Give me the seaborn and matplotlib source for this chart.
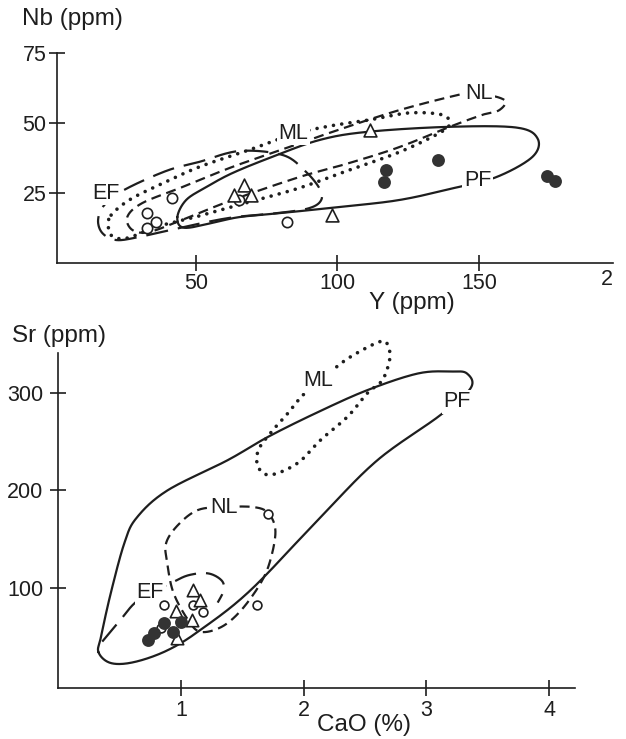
import numpy as np
import pandas as pd
import matplotlib
matplotlib.use("Agg")
import matplotlib.pyplot as plt
import seaborn as sns

# ---------------- data: top panel (Nb vs Y) ----------------
top_open_y = [32.9, 32.9, 36.0, 41.7, 65.4, 82.3]
top_open_nb = [17.9, 12.5, 14.6, 23.2, 22.5, 14.6]
top_tri_y = [67.1, 63.6, 69.6, 111.7, 98.2]
top_tri_nb = [27.9, 24.3, 24.3, 47.5, 17.1]
top_fill_y = [117.3, 116.6, 135.7, 173.9, 177.0]
top_fill_nb = [33.2, 28.9, 36.8, 31.1, 29.3]

# envelopes (Y, Nb) vertices
top_PF = [(43.5, 16.4), (46.6, 22.5), (53.7, 27.1), (62.9, 32.1), (77.0, 37.9), (93.6, 43.9),
          (110.2, 46.8), (138.5, 48.6), (163.0, 48.4), (170.7, 44.5), (168.9, 37.9), (156.2, 30.7),
          (141.3, 26.8), (121.9, 22.5), (100.7, 20.0), (80.6, 17.9), (65.4, 16.4), (55.8, 14.3),
          (45.8, 12.6)]
top_EF = [(24.7, 26.1), (39.6, 32.9), (51.2, 36.1), (65.4, 40.0), (80.6, 38.6), (88.3, 33.2),
          (93.6, 26.8), (94.3, 22.5), (90.1, 19.6), (79.5, 17.9), (61.8, 16.1), (44.2, 12.5),
          (30.0, 9.3), (21.9, 8.2), (17.0, 10.7), (15.5, 15.4), (17.7, 20.7)]
top_ML = [(20.1, 17.1), (26.5, 22.5), (37.1, 27.9), (51.2, 34.3), (68.9, 40.4), (84.5, 46.0),
          (97.2, 48.9), (111.3, 51.1), (125.4, 53.6), (137.1, 52.9), (139.6, 49.6), (136.0, 46.4),
          (121.9, 39.6), (104.2, 33.2), (86.6, 26.8), (68.9, 21.8), (51.2, 16.8), (37.1, 13.2),
          (25.8, 8.9), (20.5, 9.6), (19.1, 13.2)]
top_NL = [(150.2, 60.7), (159.0, 58.2), (157.2, 54.6), (151.2, 52.9), (139.6, 48.6), (121.9, 41.4),
          (104.2, 35.7), (86.6, 30.7), (62.9, 22.5), (45.2, 15.4), (33.6, 11.1), (27.6, 11.8),
          (25.8, 16.4), (31.1, 21.4), (45.2, 27.1), (62.9, 34.3), (83.0, 41.4), (98.2, 46.8),
          (121.9, 54.6), (145.6, 60.7)]
top_labels = {"EF": (18.2, 25.0), "ML": (84.5, 46.4), "NL": (150.2, 60.7), "PF": (149.6, 29.3)}
top_xticks = [50, 100, 150]
top_yticks = [25, 50, 75]

# ---------------- data: bottom panel (Sr vs CaO) ----------------
bot_open_cao = [0.86, 1.10, 1.18, 1.62, 1.71, 0.84]
bot_open_sr = [82.6, 82.6, 75.4, 82.6, 175.9, 59.0]
bot_tri_cao = [1.10, 1.16, 0.96, 1.09, 0.97]
bot_tri_sr = [98.0, 87.7, 76.0, 67.2, 48.7]
bot_fill_cao = [0.73, 0.78, 0.86, 0.94, 1.00]
bot_fill_sr = [46.7, 53.8, 64.1, 54.9, 65.1]

bot_PF = [(0.33, 34), (0.35, 50), (0.43, 95), (0.54, 146), (0.64, 172), (0.89, 200), (1.38, 231),
          (1.71, 255), (2.11, 280), (2.52, 303), (2.93, 320), (3.20, 322), (3.33, 320), (3.36, 305),
          (3.11, 277), (2.60, 231), (2.14, 173), (1.57, 98), (1.16, 57), (0.89, 36), (0.62, 24),
          (0.43, 23)]
bot_ML = [(2.11, 311), (2.20, 320), (2.38, 337), (2.63, 353), (2.69, 347), (2.70, 334), (2.64, 313),
          (2.52, 300), (2.36, 276), (2.14, 252), (1.95, 228), (1.73, 216), (1.63, 224), (1.63, 241),
          (1.73, 259), (1.87, 279), (1.98, 296)]
bot_NL = [(1.35, 183), (1.59, 183), (1.71, 177), (1.77, 159), (1.73, 129), (1.65, 105), (1.49, 77),
          (1.33, 60), (1.16, 55), (1.06, 67), (0.94, 95), (0.89, 125), (0.88, 146), (0.98, 165),
          (1.14, 180)]
bot_EF = [(0.36, 45), (0.50, 66), (0.62, 84), (0.75, 95), (0.92, 105), (1.06, 113), (1.22, 115),
          (1.33, 108), (1.35, 98), (1.30, 85)]
bot_labels = {"EF": (0.75, 95), "ML": (2.12, 312.8), "NL": (1.35, 183), "PF": (3.25, 290.8)}
bot_xticks = [1, 2, 3, 4]
bot_yticks = [100, 200, 300]

INK = "#1e1e1e"
FS = 15.5
FS_TITLE = 17.5

sns.set_theme(style="white")
plt.rcParams["font.family"] = ["Liberation Sans", "DejaVu Sans"]


def smooth(pts, closed=True, n=24):
    P = np.asarray(pts, dtype=float)
    if closed:
        P = np.vstack([P[-1], P, P[0], P[1]])
    else:
        P = np.vstack([P[0], P, P[-1]])
    out = []
    t = np.linspace(0, 1, n, endpoint=False)[:, None]
    for i in range(1, len(P) - 2):
        p0, p1, p2, p3 = P[i - 1], P[i], P[i + 1], P[i + 2]
        seg = 0.5 * (2 * p1 + (-p0 + p2) * t + (2 * p0 - 5 * p1 + 4 * p2 - p3) * t ** 2
                     + (-p0 + 3 * p1 - 3 * p2 + p3) * t ** 3)
        out.append(seg)
    out.append(P[-2][None, :])
    return np.vstack(out)


STYLES = {
    "PF": dict(ls="-", lw=1.6),
    "EF": dict(ls=(0, (10, 4.5)), lw=1.6),
    "NL": dict(ls=(0, (4.5, 2.6)), lw=1.6),
    "ML": dict(ls=(0, (0.01, 2.3)), lw=2.6, dash_capstyle="round", solid_capstyle="round"),
}


def draw_env(ax, pts, kind, closed=True):
    c = smooth(pts, closed=closed)
    ax.plot(c[:, 0], c[:, 1], color=INK, zorder=2, clip_on=False, **STYLES[kind])


def scatter_groups(ax, groups, sizes):
    for (xs, ys, marker, filled), s in zip(groups, sizes):
        df = pd.DataFrame({"x": xs, "y": ys})
        sns.scatterplot(data=df, x="x", y="y", ax=ax, marker=marker, s=s,
                        color=("#333333" if filled else "white"),
                        edgecolor=("#333333" if filled else INK),
                        linewidth=1.2, zorder=6, legend=False, clip_on=False)


def style_axis(ax):
    for side in ["top", "right"]:
        ax.spines[side].set_visible(False)
    for side in ["left", "bottom"]:
        ax.spines[side].set_color(INK)
        ax.spines[side].set_linewidth(1.2)
    ax.tick_params(direction="inout", length=11, width=1.2, colors=INK,
                   labelsize=FS, labelcolor=INK, bottom=True, left=True,
                   top=False, right=False)
    ax.set_xlabel("")
    ax.set_ylabel("")


fig = plt.figure(figsize=(6.26, 7.39), dpi=100)
fig.patch.set_facecolor("white")

# ---------- top panel ----------
ax1 = fig.add_axes([0.0911, 0.6441, 0.8879, 0.2842])
ax1.set_facecolor("white")
draw_env(ax1, top_PF, "PF")
draw_env(ax1, top_EF, "EF")
draw_env(ax1, top_ML, "ML")
draw_env(ax1, top_NL, "NL")
scatter_groups(ax1, [(top_open_y, top_open_nb, "o", False),
                     (top_tri_y, top_tri_nb, "^", False),
                     (top_fill_y, top_fill_nb, "o", True)], [55, 85, 65])
for lab, (x, y) in top_labels.items():
    ax1.text(x, y, lab, fontsize=FS, color=INK, ha="center", va="center", zorder=4,
             bbox=dict(boxstyle="square,pad=0.08", fc="white", ec="none"))
ax1.set_xlim(1, 197.3)
ax1.set_ylim(0, 75)
ax1.set_xticks(top_xticks)
ax1.set_yticks(top_yticks)
style_axis(ax1)
ax1.tick_params(axis="x", pad=2)
ax1.tick_params(axis="y", pad=2)
ax1.text(195.2, -2.2, "2", fontsize=FS, color=INK, ha="center", va="top", clip_on=False)
fig.text(22 / 626, 1 - 19 / 739, "Nb (ppm)", fontsize=FS_TITLE, color=INK, ha="left", va="center")
fig.text(412 / 626, 1 - 303 / 739, "Y (ppm)", fontsize=FS_TITLE, color=INK, ha="center", va="center")

# ---------- bottom panel ----------
ax2 = fig.add_axes([0.0927, 0.0690, 0.8259, 0.4533])
ax2.set_facecolor("white")
draw_env(ax2, bot_PF, "PF")
draw_env(ax2, bot_ML, "ML")
draw_env(ax2, bot_NL, "NL")
draw_env(ax2, bot_EF, "EF", closed=False)
scatter_groups(ax2, [(bot_open_cao, bot_open_sr, "o", False),
                     (bot_tri_cao, bot_tri_sr, "^", False),
                     (bot_fill_cao, bot_fill_sr, "o", True)], [40, 80, 65])
for lab, (x, y) in bot_labels.items():
    ax2.text(x, y, lab, fontsize=FS, color=INK, ha="center", va="center", zorder=4,
             bbox=dict(boxstyle="square,pad=0.08", fc="white", ec="none"))
ax2.set_xlim(0, 4.21)
ax2.set_ylim(-2.6, 341)
ax2.set_xticks(bot_xticks)
ax2.set_yticks(bot_yticks)
style_axis(ax2)
ax2.tick_params(axis="x", pad=3)
ax2.tick_params(axis="y", pad=5)
fig.text(12 / 626, 1 - 336 / 739, "Sr (ppm)", fontsize=FS_TITLE, color=INK, ha="left", va="center")
fig.text(364 / 626, 1 - 725 / 739, "CaO (%)", fontsize=FS_TITLE, color=INK, ha="center", va="center")

fig.savefig("out.png", dpi=100, facecolor="white")
